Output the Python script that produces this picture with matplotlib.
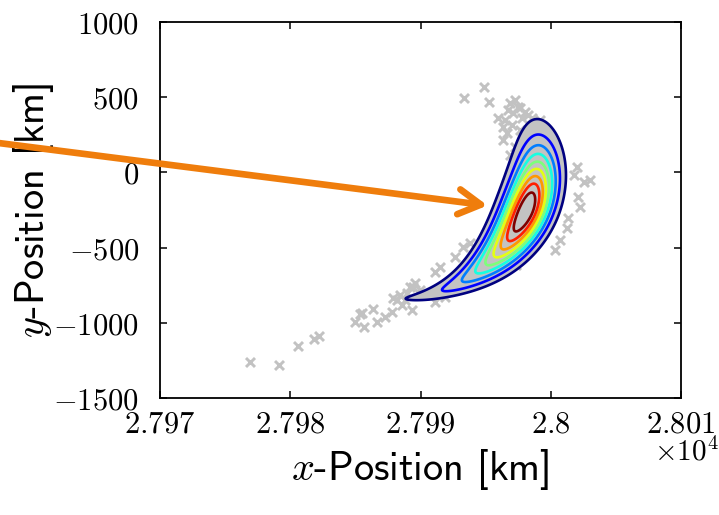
import numpy as np
import matplotlib
matplotlib.use("Agg")
import matplotlib.pyplot as plt

plt.rcParams['mathtext.fontset'] = 'cm'

# ---- axis ticks ----
x_ticks = [27970, 27980, 27990, 28000, 28010]
x_tick_labels = ['2.797', '2.798', '2.799', '2.8', '2.801']
y_ticks = [-1500, -1000, -500, 0, 500, 1000]
y_tick_labels = ['-1500', '-1000', '-500', '0', '500', '1000']

# ---- Monte Carlo samples visible outside the dense core (km) ----
sample_x = [27976.90, 27979.13, 27980.58, 27981.81, 27982.19, 27984.95, 27985.34,
            27985.64, 27986.34, 27986.64, 27987.26, 27987.79, 27988.18, 27988.56,
            27989.33, 27988.94, 27989.40, 27991.09, 27991.47, 27992.62, 27993.24,
            27993.77, 27989.56, 27989.17, 27988.41, 27987.87, 27985.49, 27989.94,
            27990.32, 27988.79,
            27997.30, 27996.07, 27994.69, 27993.77, 27992.62, 27991.09, 27991.86,
            27993.31, 27994.85, 27995.23, 27996.84, 27997.45, 27997.07, 27995.92,
            27996.30, 27996.30, 27997.22, 27997.76, 27998.53, 27999.14, 27996.69,
            27997.00, 27997.61, 27996.61, 27997.99, 27996.84, 27996.46, 27997.22,
            27997.61, 27998.22,
            28002.59, 28002.06, 28002.21, 28001.29, 28001.21, 28001.98, 28002.98,
            28001.75, 28000.68, 28000.29]
sample_y = [-1259, -1281, -1152, -1108, -1088, -993, -941,
            -1028, -908, -993, -959, -926, -848, -882,
            -915, -802, -762, -662, -629, -563, -496,
            -469, -735, -762, -815, -835, -935, -782,
            -815, -848,
            -616, -636, -715, -735, -782, -862, -828,
            497, 570, 468, 461, 435, 395, 362,
            302, 215, 169, 362, 362, 348, 415,
            315, 282, 262, 402, 116, 348, 481,
            428, 382,
            -64, -164, -230, -303, -370, 36, -51,
            -17, -450, -516]

# ---- banana-shaped density: curved ridge along an elliptical arc ----
arc_cx, arc_cy = 27987.7, 140.0      # arc centre (km)
arc_rx, arc_ry = 11.66, 1013.0       # arc radii (km)
peak_deg = -24.0                     # angle of density peak
spread_up_deg = 17.0
spread_down_deg = 17.2
spread_down_growth = 0.18
ridge_radius = 0.972
radial_width = 0.102
radial_width_tail = 0.02
taper_centre_deg = -35.0
taper_scale_deg = 12.0
levels = [0.1, 0.2, 0.3, 0.4, 0.5, 0.6, 0.7, 0.8, 0.9]

# ---- arrow ----
arrow_tip = (27995.15, -220.0)
arrow_start_axes = (-0.32, 0.68)


def density(X, Y):
    u = (X - arc_cx) / arc_rx
    v = (Y - arc_cy) / arc_ry
    rho = np.hypot(u, v)
    th = np.degrees(np.arctan2(v, u))
    d = th - peak_deg
    s = np.where(d > 0, spread_up_deg, spread_down_deg + spread_down_growth * (-d))
    sr = radial_width_tail + (radial_width - radial_width_tail) / (
        1 + np.exp(-(d - taper_centre_deg) / taper_scale_deg))
    return np.exp(-0.5 * (d / s) ** 2) * np.exp(-0.5 * ((rho - ridge_radius) / sr) ** 2)


fig = plt.figure(figsize=(7.19, 5.15), dpi=100)
ax = fig.add_axes([160 / 719, 117 / 515, 521 / 719, 376 / 515])

gx = np.linspace(27984, 28005, 420)
gy = np.linspace(-1000, 600, 420)
GX, GY = np.meshgrid(gx, gy)
Z = density(GX, GY)

ax.scatter(sample_x, sample_y, marker='x', s=42, linewidths=2.1,
           color='#c2c2c2', zorder=2)
ax.contourf(GX, GY, Z, levels=[levels[0], 2.0], colors=['#c3c3c3'], zorder=2.5)
ax.contour(GX, GY, Z, levels=levels, cmap='jet', linewidths=1.9, zorder=3)

ax.set_xlim(27970, 28010)
ax.set_ylim(-1500, 1000)
ax.set_xticks(x_ticks)
ax.set_xticklabels(['$' + t + '$' for t in x_tick_labels])
ax.set_yticks(y_ticks)
ax.set_yticklabels(['$' + t + '$' for t in y_tick_labels])
ax.tick_params(direction='in', length=5, width=1.1, labelsize=22, top=True, right=True)
ax.tick_params(axis='x', pad=8)
ax.tick_params(axis='y', pad=15)
for sp in ax.spines.values():
    sp.set_linewidth(1.3)

ax.set_xlabel(r'$x$-Position [km]', fontsize=29, family='cmss10')
ax.set_ylabel(r'$y$-Position [km]', fontsize=29, family='cmss10')
ax.xaxis.set_label_coords(0.5, -0.13)
ax.yaxis.set_label_coords(-0.2, 0.5)

ax.text(1.0715, -0.105, r'$\times10^{4}$', transform=ax.transAxes, ha='right', va='top',
        fontsize=21)

ax.annotate('', xy=arrow_tip, xycoords='data', xytext=arrow_start_axes,
            textcoords='axes fraction', annotation_clip=False,
            arrowprops=dict(arrowstyle='->,head_length=0.8,head_width=0.45',
                            color='#ef7d0c', lw=4.8, mutation_scale=20,
                            shrinkA=0, shrinkB=0, capstyle='round'),
            zorder=10)

fig.savefig('out.png', dpi=100)
